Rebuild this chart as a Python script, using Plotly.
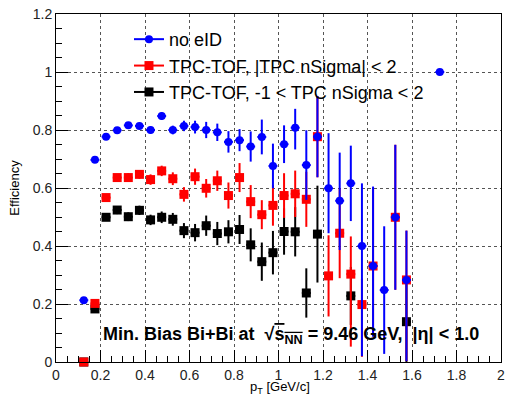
import plotly.graph_objects as go

# bin centres (pT, GeV/c)
pt = [0.125, 0.175, 0.225, 0.275, 0.325, 0.375, 0.425, 0.475, 0.525, 0.575,
      0.625, 0.675, 0.725, 0.775, 0.825, 0.875, 0.925, 0.975, 1.025, 1.075,
      1.125, 1.175, 1.225, 1.275, 1.325, 1.375, 1.425, 1.475, 1.525, 1.575,
      1.625, 1.675, 1.725]
pt_halfwidth = [0.02] * len(pt)

# no eID
eff_noeid = [0.213, 0.697, 0.777, 0.799, 0.816, 0.814, 0.800, 0.848, 0.800, 0.814,
             0.810, 0.800, 0.792, 0.759, 0.765, 0.743, 0.776, 0.676, 0.751, 0.808,
             0.679, 0.777, 0.599, 0.556, 0.616, 0.400, 0.331, 0.248, 0.499, 0.283,
             None, None, 1.000]
err_noeid_up = [0.005, 0.008, 0.009, 0.010, 0.010, 0.011, 0.012, 0.013, 0.015, 0.018,
                0.022, 0.028, 0.030, 0.037, 0.038, 0.052, 0.060, 0.077, 0.065, 0.065,
                0.120, 0.140, 0.190, 0.166, 0.130, 0.216, 0.274, 0.220, 0.250, 0.170,
                0, 0, 0.002]
err_noeid_dn = [0.005, 0.008, 0.009, 0.010, 0.010, 0.011, 0.012, 0.013, 0.015, 0.018,
                0.022, 0.028, 0.030, 0.037, 0.038, 0.052, 0.060, 0.077, 0.065, 0.075,
                0.120, 0.140, 0.155, 0.170, 0.130, 0.380, 0.244, 0.220, 0.250, 0.280,
                0, 0, 0.002]

# TPC-TOF, |TPC nSigma| < 2
eff_tof2 = [0.000, 0.202, 0.567, 0.636, 0.636, 0.647, 0.629, 0.659, 0.632, 0.578,
            0.639, 0.599, 0.625, 0.574, 0.636, 0.553, 0.508, 0.540, 0.574, 0.580,
            0.561, 0.777, 0.297, 0.444, 0.303, 0.198, 0.331, None, 0.499, 0.283,
            None, None, None]
err_tof2_up = [0.005, 0.010, 0.012, 0.012, 0.015, 0.015, 0.018, 0.018, 0.022, 0.025,
               0.028, 0.032, 0.035, 0.045, 0.050, 0.057, 0.050, 0.070, 0.077, 0.080,
               0.095, 0.140, 0.140, 0.155, 0.130, 0.090, 0.270, 0, 0.250, 0.170,
               0, 0, 0]
err_tof2_dn = [0.005, 0.010, 0.012, 0.012, 0.015, 0.015, 0.018, 0.018, 0.022, 0.025,
               0.028, 0.032, 0.035, 0.045, 0.050, 0.057, 0.050, 0.070, 0.077, 0.080,
               0.095, 0.140, 0.140, 0.155, 0.250, 0.180, 0.240, 0, 0.250, 0.280,
               0, 0, 0]

# TPC-TOF, -1 < TPC nSigma < 2
eff_tof12 = [0.000, 0.183, 0.499, 0.524, 0.501, 0.523, 0.490, 0.499, 0.492, 0.453,
             0.446, 0.470, 0.443, 0.449, 0.457, 0.404, 0.346, 0.377, 0.450, 0.449,
             0.238, 0.441, None, None, 0.228, None, None, None, None, 0.139,
             None, None, None]
err_tof12 = [0.005, 0.010, 0.012, 0.014, 0.015, 0.016, 0.018, 0.020, 0.022, 0.026,
             0.030, 0.035, 0.040, 0.040, 0.050, 0.057, 0.066, 0.075, 0.080, 0.085,
             0.085, 0.167, 0, 0, 0.100, 0, 0, 0, 0, 0.140,
             0, 0, 0]

names = ["no eID", "TPC-TOF, |TPC nSigma| < 2", "TPC-TOF, -1 < TPC nSigma < 2"]
colors = ["#0000ff", "#ff0000", "#000000"]
symbols = ["circle", "square", "square"]
sizes = [8, 9, 9]

FONT = "Liberation Sans, Arial, Helvetica, sans-serif"

fig = go.Figure()

series = [
    (eff_tof12, err_tof12, err_tof12, 2),
    (eff_tof2, err_tof2_up, err_tof2_dn, 1),
    (eff_noeid, err_noeid_up, err_noeid_dn, 0),
]
for y, eu, ed, i in series:
    fig.add_trace(go.Scatter(
        x=pt, y=y, mode="markers", showlegend=False, cliponaxis=False,
        marker=dict(color=colors[i], symbol=symbols[i], size=sizes[i], line=dict(width=0)),
        error_y=dict(type="data", symmetric=False, array=eu, arrayminus=ed,
                     color=colors[i], thickness=2, width=0),
        error_x=dict(type="data", array=pt_halfwidth, color=colors[i], thickness=2, width=0),
    ))

# legend entries (line + marker sample, ROOT style)
for i in range(3):
    fig.add_trace(go.Scatter(
        x=[None], y=[None], mode="lines+markers", name=names[i],
        line=dict(color=colors[i], width=2),
        marker=dict(color=colors[i], symbol=symbols[i], size=sizes[i]),
    ))

fig.add_annotation(
    xref="paper", yref="paper", x=0.101, y=0.075, xanchor="left", yanchor="middle",
    showarrow=False,
    text="<b>Min. Bias Bi+Bi at  √<span style='text-decoration:overline'>s<sub>NN</sub></span> = 9.46 GeV,  |η| < 1.0</b>",
    font=dict(family=FONT, size=18, color="black"),
)

# x-axis title placed below the tick labels
fig.add_annotation(
    xref="paper", yref="paper", x=0.503, y=-0.074, xanchor="center", yanchor="middle",
    showarrow=False, text="p<sub>T</sub> [GeV/c]",
    font=dict(family=FONT, size=13, color="black"),
)

axis_common = dict(
    showline=True, linecolor="black", linewidth=1, mirror=True,
    ticks="inside", ticklen=12, tickwidth=1, tickcolor="black",
    showgrid=True, gridcolor="#555555", griddash="dot", gridwidth=1,
    zeroline=False, tickfont=dict(family=FONT, size=14, color="#222222"),
    automargin=False,
)

fig.update_xaxes(
    range=[0, 2], tick0=0, dtick=0.2,
    minor=dict(ticks="inside", ticklen=6, dtick=0.05, tickcolor="black", showgrid=False),
    **axis_common,
)
fig.update_yaxes(
    range=[0, 1.2], tick0=0, dtick=0.2,
    minor=dict(ticks="inside", ticklen=6, dtick=0.05, tickcolor="black", showgrid=False),
    title=dict(text="Efficiency", font=dict(family=FONT, size=13, color="black"), standoff=10),
    **axis_common,
)

fig.update_layout(
    width=509, height=395,
    margin=dict(l=56, r=8, t=14, b=33),
    paper_bgcolor="white", plot_bgcolor="white",
    font=dict(family=FONT),
    legend=dict(x=0.164, y=0.98, xanchor="left", yanchor="top",
                bgcolor="rgba(0,0,0,0)", borderwidth=0,
                font=dict(family=FONT, size=18, color="black")),
)

fig.write_html("out.html")
